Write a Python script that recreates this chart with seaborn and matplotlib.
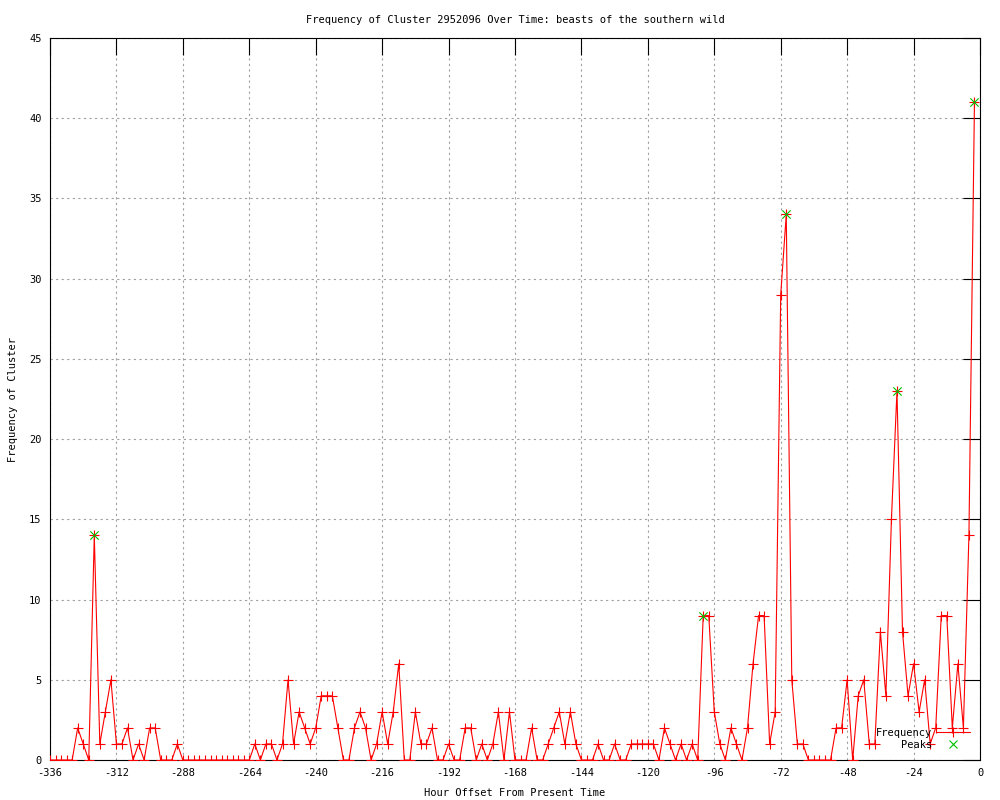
import numpy as np
import matplotlib
matplotlib.use("Agg")
import matplotlib.pyplot as plt
from matplotlib.lines import Line2D
import seaborn as sns

sns.set_style("white")
plt.rcParams['font.family'] = ['DejaVu Sans Mono', 'DejaVu Sans']
plt.rcParams['axes.unicode_minus'] = False
plt.rcParams['text.color'] = 'black'
plt.rcParams['axes.labelcolor'] = 'black'
plt.rcParams['xtick.color'] = 'black'
plt.rcParams['ytick.color'] = 'black'

# hour offsets, every 2 hours
hours = np.arange(-336, 0, 2)
freq = [
    0, 0, 0, 0, 0, 2, 1, 0, 14, 1, 3, 5, 1, 1, 2, 0, 1, 0, 2, 2,
    0, 0, 0, 1, 0, 0, 0, 0, 0, 0, 0, 0, 0, 0, 0, 0, 0, 1, 0, 1,
    1, 0, 1, 5, 1, 3, 2, 1, 2, 4, 4, 4, 2, 0, 0, 2, 3, 2, 0, 1,
    3, 1, 3, 6, 0, 0, 3, 1, 1, 2, 0, 0, 1, 0, 0, 2, 2, 0, 1, 0,
    1, 3, 0, 3, 0, 0, 0, 2, 0, 0, 1, 2, 3, 1, 3, 1, 0, 0, 0, 1,
    0, 0, 1, 0, 0, 1, 1, 1, 1, 1, 0, 2, 1, 0, 1, 0, 1, 0, 9, 9,
    3, 1, 0, 2, 1, 0, 2, 6, 9, 9, 1, 3, 29, 34, 5, 1, 1, 0, 0, 0,
    0, 0, 2, 2, 5, 0, 4, 5, 1, 1, 8, 4, 15, 23, 8, 4, 6, 3, 5, 1,
    2, 9, 9, 2, 6, 2, 14, 41,
]
peak_hours = [-320, -100, -70, -30, -2]
peak_freq = [14, 9, 34, 23, 41]

RED = '#ff0000'
GREEN = '#00c000'

fig = plt.figure(figsize=(10, 8), dpi=100)
ax = fig.add_axes([0.05, 0.05, 0.93, 0.9025])

sns.lineplot(x=hours, y=freq, ax=ax, color=RED, linewidth=0.8,
             marker='+', markersize=6.5, markeredgewidth=0.8,
             markeredgecolor=RED, zorder=3)
sns.scatterplot(x=peak_hours, y=peak_freq, ax=ax, color=GREEN, marker='x',
                s=36, linewidth=0.8, zorder=4)

ax.set_xlim(-336, 0)
ax.set_ylim(0, 45)
ax.set_xticks(np.arange(-336, 1, 24))
ax.set_yticks(np.arange(0, 46, 5))

ax.grid(True, color='#a0a0a0', linestyle=(0, (2, 3)), linewidth=0.8)
ax.set_axisbelow(True)
for s in ax.spines.values():
    s.set_color('black')
    s.set_linewidth(0.8)
ax.tick_params(axis='both', direction='in', length=12, width=0.8,
               top=True, right=True, labelsize=7.5, color='black',
               labelcolor='black', pad=6)

ax.set_title('Frequency of Cluster 2952096 Over Time: beasts of the southern wild',
             fontsize=7.5, pad=11, color='black')
ax.set_xlabel('Hour Offset From Present Time', fontsize=7.5, labelpad=7)
ax.set_ylabel('Frequency of Cluster', fontsize=7.5)
ax.yaxis.set_label_coords(-0.034, 0.5)

handles = [
    Line2D([], [], color=RED, linewidth=0.8, marker='+', markersize=6.5,
           markeredgewidth=0.8),
    Line2D([], [], color=GREEN, linestyle='none', marker='x', markersize=6,
           markeredgewidth=0.8),
]
ax.legend(handles=handles, labels=['Frequency', 'Peaks'], loc='lower right',
          bbox_to_anchor=(1.0, 0.0), frameon=False, markerfirst=False,
          fontsize=7.5, handlelength=3.2, handletextpad=0.4,
          labelspacing=0.2, borderaxespad=0.6, labelcolor='black')

fig.savefig('out.png', dpi=100)
